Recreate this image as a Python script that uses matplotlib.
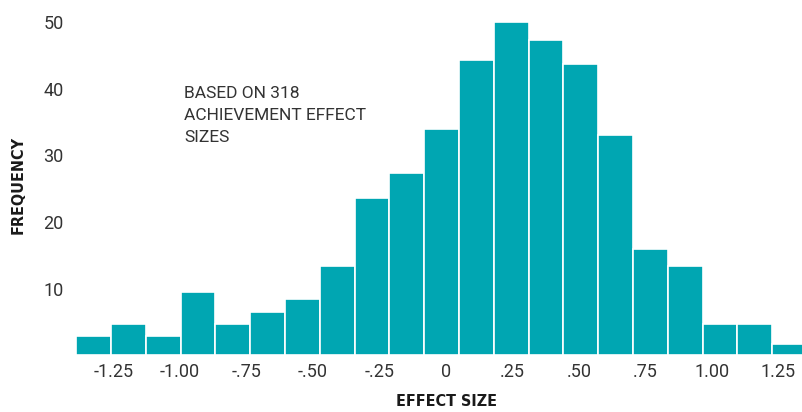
import numpy as np
import matplotlib.pyplot as plt

# data
freq = [2.9, 4.7, 2.9, 9.4, 4.7, 6.4, 8.4, 13.4, 23.6, 27.3, 34.0,
        44.4, 50.1, 47.3, 43.8, 33.1, 15.9, 13.4, 4.6, 4.6, 1.6]
xtick_vals = [-1.25, -1.00, -0.75, -0.50, -0.25, 0, 0.25, 0.50, 0.75, 1.00, 1.25]
xtick_labels = ['-1.25', '-1.00', '-.75', '-.50', '-.25', '0', '.25', '.50', '.75', '1.00', '1.25']
ytick_vals = [10, 20, 30, 40, 50]
note_lines = ['BASED ON 318', 'ACHIEVEMENT EFFECT', 'SIZES']

# layout
bin_start = -1.389
bin_width = 0.1308
x_right = 1.339
teal = '#00A6B2'
grey = '#333333'

W, H = 802, 412
fig = plt.figure(figsize=(W/100, H/100), dpi=100)
ax = fig.add_axes([76.3/W, 57/H, 1-76.3/W, (355-9.2)/H])

edges = bin_start + bin_width*np.arange(len(freq))
ax.bar(edges, freq, width=bin_width, align='edge', color=teal,
       edgecolor='white', linewidth=1.2)

ax.set_xlim(bin_start, x_right)
ax.set_ylim(0, 52)
ax.set_xticks(xtick_vals)
ax.set_xticklabels(xtick_labels)
ax.set_yticks(ytick_vals)
for s in ax.spines.values():
    s.set_visible(False)
ax.tick_params(axis='x', length=0, pad=6, labelsize=13, labelcolor=grey)
ax.tick_params(axis='y', length=0, pad=9, labelsize=13, labelcolor=grey)
for lab in ax.get_xticklabels() + ax.get_yticklabels():
    lab.set_family('Roboto')

# note text
for i, line in enumerate(note_lines):
    fig.text(184/W, 1-(98.3+21.7*i)/H, line, ha='left', va='baseline',
             fontsize=12.5, family='Roboto', color=grey)

fig.text(446/W, 1-402/H, 'EFFECT SIZE', ha='center', va='center',
         fontsize=11.5, weight='heavy', stretch='condensed', color='#1a1a1a',
         family='DejaVu Sans')
fig.text(18.5/W, 1-185/H, 'FREQUENCY', ha='center', va='center', rotation=90,
         fontsize=11.5, weight='heavy', stretch='condensed', color='#1a1a1a',
         family='DejaVu Sans')

plt.savefig('out.png', dpi=100)
